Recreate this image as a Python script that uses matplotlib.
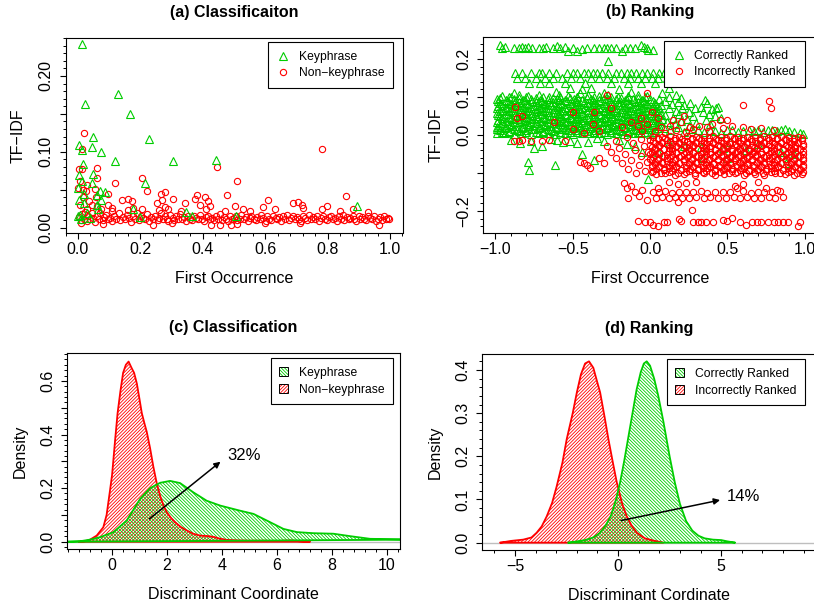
import matplotlib
matplotlib.use("Agg")
import matplotlib.pyplot as plt
from matplotlib.patches import Patch
from matplotlib.lines import Line2D
from matplotlib.ticker import MultipleLocator

plt.rcParams['font.family'] = ['Liberation Sans', 'DejaVu Sans']
plt.rcParams['hatch.linewidth'] = 0.6

GREEN = '#00CD00'
RED = '#FF0000'
HATCH_G = '\\' * 10
HATCH_R = '/' * 10

# ---- (a) Classification: first occurrence vs TF-IDF ----
keyphrase_pts = [
    (0.012, 0.242), (0.127, 0.176), (0.022, 0.163), (0.167, 0.150), (0.229, 0.117),
    (0.047, 0.119), (0.003, 0.109), (0.046, 0.106), (0.014, 0.103), (0.075, 0.100),
    (0.119, 0.088), (0.305, 0.088), (0.442, 0.089), (0.017, 0.084), (0.003, 0.070),
    (0.049, 0.071), (0.044, 0.059), (0.215, 0.059), (0.001, 0.052), (0.070, 0.049),
    (0.060, 0.043), (0.020, 0.044), (0.003, 0.037), (0.074, 0.036), (0.019, 0.033),
    (0.060, 0.030), (0.177, 0.024), (0.345, 0.021), (0.000, 0.015), (0.200, 0.014),
    (0.364, 0.016), (0.010, 0.012), (0.506, 0.016), (0.893, 0.029), (0.030, 0.020),
    (0.065, 0.025), (0.008, 0.017), (0.040, 0.013), (0.085, 0.047), (0.012, 0.062),
]

nonkey_outliers = [
    (0.019, 0.125), (0.012, 0.104), (0.781, 0.104), (0.444, 0.080), (0.060, 0.079),
    (0.012, 0.077), (0.003, 0.077), (0.060, 0.066), (0.204, 0.065), (0.509, 0.062),
    (0.119, 0.059), (0.000, 0.052), (0.017, 0.050), (0.054, 0.051), (0.025, 0.048),
    (0.220, 0.049), (0.097, 0.044), (0.279, 0.047), (0.858, 0.042), (0.266, 0.044),
    (0.380, 0.043), (0.407, 0.041), (0.476, 0.043), (0.374, 0.038), (0.418, 0.035),
    (0.306, 0.038), (0.161, 0.038), (0.140, 0.037), (0.172, 0.035), (0.252, 0.033),
    (0.268, 0.037), (0.343, 0.032), (0.610, 0.036), (0.690, 0.032), (0.706, 0.034),
    (0.717, 0.030), (0.797, 0.028), (0.781, 0.025), (0.530, 0.025), (0.594, 0.027),
    (0.097, 0.030), (0.060, 0.028), (0.503, 0.029), (0.423, 0.028), (0.390, 0.030),
    (0.177, 0.026), (0.204, 0.024), (0.005, 0.062), (0.015, 0.040), (0.035, 0.035),
    (0.045, 0.030), (0.008, 0.030), (0.075, 0.024), (0.057, 0.040), (0.030, 0.056),
    (0.110, 0.022), (0.260, 0.023), (0.290, 0.025), (0.470, 0.022),
    (0.03, 0.024), (0.11, 0.026), (0.16, 0.023), (0.28, 0.027), (0.33, 0.022),
    (0.41, 0.025), (0.55, 0.022), (0.63, 0.024), (0.72, 0.026), (0.84, 0.022),
    (0.88, 0.024), (0.93, 0.021), (0.24, 0.003), (0.425, 0.004), (0.49, 0.003),
    (0.51, 0.005), (0.60, 0.006), (0.71, 0.006), (0.965, 0.004), (0.01, 0.006),
    (0.08, 0.005), (0.30, 0.006), (0.455, 0.004),
]

nonkey_band = [
    (0.003, 0.014), (0.009, 0.010), (0.012, 0.018), (0.019, 0.012), (0.022, 0.021),
    (0.028, 0.009), (0.033, 0.015), (0.038, 0.011), (0.045, 0.019), (0.049, 0.013),
    (0.055, 0.008), (0.061, 0.016), (0.066, 0.012), (0.071, 0.020), (0.079, 0.010),
    (0.084, 0.014), (0.091, 0.017), (0.097, 0.011), (0.104, 0.013), (0.108, 0.009),
    (0.117, 0.016), (0.122, 0.012), (0.131, 0.019), (0.135, 0.010), (0.144, 0.014),
    (0.151, 0.011), (0.157, 0.017), (0.163, 0.013), (0.170, 0.008), (0.176, 0.015),
    (0.183, 0.012), (0.188, 0.020), (0.195, 0.010), (0.203, 0.016), (0.209, 0.013),
    (0.216, 0.011), (0.221, 0.018), (0.228, 0.009), (0.234, 0.014), (0.241, 0.012),
    (0.247, 0.016), (0.256, 0.010), (0.261, 0.013), (0.266, 0.019), (0.273, 0.011),
    (0.279, 0.015), (0.284, 0.012), (0.290, 0.009), (0.296, 0.017), (0.303, 0.013),
    (0.309, 0.010), (0.314, 0.015), (0.322, 0.012), (0.328, 0.018), (0.333, 0.011),
    (0.341, 0.014), (0.347, 0.009), (0.352, 0.016), (0.359, 0.012), (0.366, 0.010),
    (0.371, 0.015), (0.378, 0.013), (0.385, 0.011), (0.391, 0.017), (0.397, 0.012),
    (0.404, 0.009), (0.410, 0.014), (0.416, 0.016), (0.423, 0.011), (0.429, 0.013),
    (0.436, 0.010), (0.441, 0.015), (0.448, 0.012), (0.455, 0.018), (0.461, 0.010),
    (0.467, 0.014), (0.473, 0.012), (0.480, 0.009), (0.486, 0.016), (0.492, 0.011),
    (0.499, 0.013), (0.505, 0.015), (0.511, 0.010), (0.518, 0.012), (0.524, 0.017),
    (0.531, 0.011), (0.537, 0.014), (0.544, 0.009), (0.550, 0.013), (0.556, 0.016),
    (0.563, 0.012), (0.569, 0.010), (0.575, 0.014), (0.582, 0.011), (0.588, 0.017),
    (0.594, 0.013), (0.601, 0.009), (0.607, 0.015), (0.613, 0.012), (0.620, 0.010),
    (0.626, 0.016), (0.633, 0.013), (0.639, 0.011), (0.645, 0.014), (0.652, 0.009),
    (0.658, 0.015), (0.664, 0.012), (0.671, 0.017), (0.677, 0.010), (0.683, 0.013),
    (0.690, 0.016), (0.696, 0.011), (0.702, 0.014), (0.709, 0.012), (0.715, 0.009),
    (0.721, 0.015), (0.728, 0.013), (0.734, 0.010), (0.740, 0.017), (0.747, 0.012),
    (0.753, 0.014), (0.759, 0.011), (0.766, 0.016), (0.772, 0.009), (0.778, 0.013),
    (0.785, 0.015), (0.791, 0.012), (0.797, 0.010), (0.804, 0.014), (0.810, 0.016),
    (0.816, 0.011), (0.823, 0.013), (0.829, 0.009), (0.835, 0.015), (0.842, 0.012),
    (0.848, 0.017), (0.854, 0.010), (0.861, 0.014), (0.867, 0.011), (0.873, 0.013),
    (0.880, 0.016), (0.886, 0.012), (0.892, 0.009), (0.899, 0.015), (0.905, 0.011),
    (0.911, 0.014), (0.918, 0.012), (0.924, 0.010), (0.930, 0.016), (0.937, 0.013),
    (0.943, 0.011), (0.949, 0.015), (0.956, 0.009), (0.962, 0.012), (0.968, 0.014),
    (0.975, 0.010), (0.981, 0.016), (0.987, 0.011), (0.994, 0.013), (0.998, 0.012),
]

# ---- (b) Ranking: first occurrence difference vs TF-IDF difference ----
correct_pts = [
    # top rows
    (-0.97, 0.236), (-0.96, 0.228), (-0.94, 0.232), (-0.88, 0.229), (-0.85, 0.229),
    (-0.83, 0.232), (-0.81, 0.229), (-0.79, 0.231), (-0.76, 0.229), (-0.72, 0.229),
    (-0.69, 0.229), (-0.67, 0.231), (-0.63, 0.229), (-0.60, 0.233), (-0.58, 0.229),
    (-0.55, 0.232), (-0.53, 0.222), (-0.50, 0.229), (-0.47, 0.221), (-0.44, 0.226),
    (-0.41, 0.229), (-0.36, 0.229), (-0.33, 0.229), (-0.30, 0.229), (-0.28, 0.229),
    (-0.25, 0.229), (-0.22, 0.229), (-0.18, 0.221), (-0.16, 0.229), (-0.13, 0.229),
    (-0.10, 0.229), (-0.06, 0.236), (-0.04, 0.232), (-0.02, 0.228), (-0.01, 0.225),
    (0.02, 0.224), (-0.27, 0.195),
    (-0.87, 0.164), (-0.83, 0.164), (-0.77, 0.164), (-0.72, 0.164), (-0.70, 0.164),
    (-0.65, 0.164), (-0.61, 0.164), (-0.54, 0.164), (-0.50, 0.164), (-0.47, 0.164),
    (-0.43, 0.164), (-0.40, 0.164), (-0.37, 0.164), (-0.34, 0.164), (-0.31, 0.164),
    (-0.27, 0.164), (-0.22, 0.164), (-0.19, 0.164), (-0.15, 0.164), (-0.12, 0.164),
    (-0.09, 0.164), (-0.05, 0.164), (-0.02, 0.164), (0.02, 0.164), (0.06, 0.164),
    (0.09, 0.164),
    (-0.86, 0.150), (-0.81, 0.150), (-0.74, 0.150), (-0.68, 0.150), (-0.63, 0.150),
    (-0.57, 0.150), (-0.51, 0.150), (-0.45, 0.150), (-0.38, 0.150), (-0.33, 0.150),
    (-0.28, 0.150), (-0.23, 0.150), (-0.17, 0.150), (-0.13, 0.150), (-0.08, 0.150),
    (-0.03, 0.150), (0.01, 0.150), (0.05, 0.150), (0.11, 0.150),
    (-0.78, 0.138), (-0.71, 0.138), (-0.65, 0.138), (-0.55, 0.138), (-0.42, 0.138),
    (-0.25, 0.138), (-0.14, 0.138), (-0.06, 0.138), (0.03, 0.138), (0.14, 0.138),
    (-0.52, 0.124), (-0.44, 0.120), (-0.38, 0.124), (-0.20, 0.120), (0.12, 0.125),
    # dense core
    (-0.99, 0.004), (-0.94, 0.006), (-0.88, 0.003), (-0.83, 0.005), (-0.77, 0.002),
    (-0.72, 0.006), (-0.66, 0.004), (-0.61, 0.003), (-0.55, 0.006), (-0.50, 0.002),
    (-0.44, 0.005), (-0.39, 0.004), (-0.33, 0.006), (-0.28, 0.003), (-0.22, 0.005),
    (-0.17, 0.002), (-0.11, 0.006), (-0.06, 0.004), (0.00, 0.003),
    (-0.96, 0.009), (-0.91, 0.007), (-0.85, 0.010), (-0.80, 0.008), (-0.74, 0.009),
    (-0.69, 0.007), (-0.63, 0.010), (-0.58, 0.008), (-0.52, 0.009), (-0.47, 0.007),
    (-0.41, 0.010), (-0.36, 0.008), (-0.30, 0.009), (-0.25, 0.007), (-0.19, 0.010),
    (-0.14, 0.008), (-0.08, 0.009), (-0.03, 0.007), (0.02, 0.008),
    (-0.97, 0.013), (-0.91, 0.011), (-0.86, 0.014), (-0.80, 0.012), (-0.75, 0.015),
    (-0.69, 0.011), (-0.64, 0.013), (-0.58, 0.015), (-0.53, 0.012), (-0.47, 0.014),
    (-0.42, 0.011), (-0.36, 0.013), (-0.31, 0.015), (-0.25, 0.012), (-0.20, 0.014),
    (-0.14, 0.011), (-0.09, 0.013), (-0.03, 0.015), (0.03, 0.012),
    (-0.99, 0.017), (-0.94, 0.018), (-0.88, 0.016), (-0.83, 0.019), (-0.77, 0.017),
    (-0.72, 0.018), (-0.66, 0.016), (-0.61, 0.019), (-0.55, 0.017), (-0.50, 0.018),
    (-0.44, 0.016), (-0.39, 0.019), (-0.33, 0.017), (-0.28, 0.018), (-0.22, 0.016),
    (-0.17, 0.019), (-0.11, 0.017), (-0.06, 0.018), (0.00, 0.016), (0.05, 0.018),
    (-0.99, 0.022), (-0.93, 0.020), (-0.89, 0.024), (-0.82, 0.021), (-0.78, 0.023),
    (-0.71, 0.020), (-0.67, 0.024), (-0.60, 0.022), (-0.56, 0.020), (-0.49, 0.023),
    (-0.45, 0.021), (-0.38, 0.024), (-0.34, 0.020), (-0.27, 0.022), (-0.23, 0.024),
    (-0.16, 0.021), (-0.12, 0.023), (-0.05, 0.020), (-0.01, 0.022), (0.06, 0.024),
    (-0.97, 0.026), (-0.91, 0.027), (-0.86, 0.025), (-0.80, 0.028), (-0.75, 0.026),
    (-0.69, 0.027), (-0.64, 0.025), (-0.58, 0.028), (-0.53, 0.026), (-0.47, 0.027),
    (-0.42, 0.025), (-0.36, 0.028), (-0.31, 0.026), (-0.25, 0.027), (-0.20, 0.025),
    (-0.14, 0.028), (-0.09, 0.026), (-0.03, 0.027), (0.02, 0.026),
    (-0.96, 0.031), (-0.90, 0.029), (-0.85, 0.033), (-0.79, 0.030), (-0.74, 0.032),
    (-0.68, 0.029), (-0.63, 0.031), (-0.57, 0.033), (-0.52, 0.030), (-0.46, 0.032),
    (-0.41, 0.029), (-0.35, 0.031), (-0.30, 0.033), (-0.24, 0.030), (-0.19, 0.032),
    (-0.13, 0.029), (-0.08, 0.031), (-0.02, 0.033), (0.04, 0.030),
    (-0.99, 0.035), (-0.93, 0.036), (-0.88, 0.034), (-0.82, 0.037), (-0.77, 0.035),
    (-0.71, 0.036), (-0.66, 0.034), (-0.60, 0.037), (-0.55, 0.035), (-0.49, 0.036),
    (-0.44, 0.034), (-0.38, 0.037), (-0.33, 0.035), (-0.27, 0.036), (-0.22, 0.034),
    (-0.16, 0.037), (-0.11, 0.035), (-0.05, 0.036), (0.01, 0.034), (0.06, 0.036),
    (-0.98, 0.040), (-0.92, 0.038), (-0.87, 0.042), (-0.81, 0.039), (-0.76, 0.041),
    (-0.70, 0.038), (-0.65, 0.042), (-0.59, 0.040), (-0.54, 0.038), (-0.48, 0.041),
    (-0.43, 0.039), (-0.37, 0.042), (-0.32, 0.038), (-0.26, 0.040), (-0.21, 0.042),
    (-0.15, 0.039), (-0.10, 0.041), (-0.04, 0.038), (0.02, 0.040), (0.08, 0.042),
    (-0.96, 0.044), (-0.90, 0.045), (-0.84, 0.043), (-0.79, 0.046), (-0.73, 0.044),
    (-0.68, 0.045), (-0.62, 0.043), (-0.57, 0.046), (-0.51, 0.044), (-0.46, 0.045),
    (-0.40, 0.043), (-0.35, 0.046), (-0.29, 0.044), (-0.24, 0.045), (-0.18, 0.043),
    (-0.13, 0.046), (-0.07, 0.044), (-0.02, 0.045), (0.04, 0.044),
    (-0.97, 0.049), (-0.91, 0.047), (-0.85, 0.051), (-0.80, 0.048), (-0.74, 0.050),
    (-0.69, 0.047), (-0.63, 0.051), (-0.58, 0.049), (-0.52, 0.047), (-0.47, 0.050),
    (-0.41, 0.048), (-0.36, 0.051), (-0.30, 0.047), (-0.25, 0.049), (-0.19, 0.051),
    (-0.14, 0.048), (-0.08, 0.050), (-0.03, 0.047), (0.03, 0.049),
    (-0.98, 0.053), (-0.92, 0.054), (-0.87, 0.052), (-0.81, 0.055), (-0.76, 0.053),
    (-0.70, 0.054), (-0.65, 0.052), (-0.59, 0.055), (-0.54, 0.053), (-0.48, 0.054),
    (-0.43, 0.052), (-0.37, 0.055), (-0.32, 0.053), (-0.26, 0.054), (-0.21, 0.052),
    (-0.15, 0.055), (-0.10, 0.053), (-0.04, 0.054), (0.02, 0.053), (0.07, 0.055),
    (-0.99, 0.058), (-0.93, 0.056), (-0.88, 0.060), (-0.82, 0.057), (-0.77, 0.059),
    (-0.71, 0.056), (-0.66, 0.060), (-0.60, 0.058), (-0.55, 0.056), (-0.49, 0.059),
    (-0.44, 0.057), (-0.38, 0.060), (-0.33, 0.056), (-0.27, 0.058), (-0.22, 0.060),
    (-0.16, 0.057), (-0.11, 0.059), (-0.05, 0.056), (0.00, 0.058), (0.05, 0.060),
    (-0.97, 0.062), (-0.91, 0.063), (-0.85, 0.061), (-0.80, 0.064), (-0.74, 0.062),
    (-0.69, 0.063), (-0.63, 0.061), (-0.58, 0.064), (-0.52, 0.062), (-0.47, 0.063),
    (-0.41, 0.061), (-0.36, 0.064), (-0.30, 0.062), (-0.25, 0.063), (-0.19, 0.061),
    (-0.14, 0.064), (-0.08, 0.062), (-0.03, 0.063), (0.03, 0.062),
    (-0.96, 0.067), (-0.90, 0.065), (-0.84, 0.069), (-0.79, 0.066), (-0.73, 0.068),
    (-0.68, 0.065), (-0.62, 0.069), (-0.57, 0.067), (-0.51, 0.065), (-0.46, 0.068),
    (-0.40, 0.066), (-0.35, 0.069), (-0.29, 0.065), (-0.24, 0.067), (-0.18, 0.069),
    (-0.13, 0.066), (-0.07, 0.068), (-0.02, 0.065), (0.04, 0.067),
    (-0.99, 0.071), (-0.93, 0.072), (-0.88, 0.070), (-0.82, 0.073), (-0.77, 0.071),
    (-0.71, 0.072), (-0.66, 0.070), (-0.60, 0.073), (-0.55, 0.071), (-0.49, 0.072),
    (-0.44, 0.070), (-0.38, 0.073), (-0.33, 0.071), (-0.27, 0.072), (-0.22, 0.070),
    (-0.16, 0.073), (-0.11, 0.071), (-0.05, 0.072), (0.01, 0.070), (0.06, 0.072),
    (-0.98, 0.076), (-0.92, 0.074), (-0.86, 0.078), (-0.81, 0.075), (-0.75, 0.077),
    (-0.70, 0.074), (-0.64, 0.078), (-0.59, 0.076), (-0.53, 0.074), (-0.48, 0.077),
    (-0.42, 0.075), (-0.37, 0.078), (-0.31, 0.074), (-0.26, 0.076), (-0.20, 0.078),
    (-0.15, 0.075), (-0.09, 0.077), (-0.04, 0.074), (0.02, 0.076), (0.07, 0.078),
    (-0.96, 0.080), (-0.90, 0.081), (-0.84, 0.079), (-0.79, 0.082), (-0.73, 0.080),
    (-0.68, 0.081), (-0.62, 0.079), (-0.57, 0.082), (-0.51, 0.080), (-0.46, 0.081),
    (-0.40, 0.079), (-0.35, 0.082), (-0.29, 0.080), (-0.24, 0.081), (-0.18, 0.079),
    (-0.13, 0.082), (-0.07, 0.080), (-0.02, 0.081), (0.04, 0.080),
    (-0.97, 0.085), (-0.91, 0.083), (-0.85, 0.087), (-0.80, 0.084), (-0.74, 0.086),
    (-0.69, 0.083), (-0.63, 0.087), (-0.58, 0.085), (-0.52, 0.083), (-0.47, 0.086),
    (-0.41, 0.084), (-0.36, 0.087), (-0.30, 0.083), (-0.25, 0.085), (-0.19, 0.087),
    (-0.14, 0.084), (-0.08, 0.086), (-0.03, 0.083), (0.03, 0.085),
    (-0.98, 0.089), (-0.92, 0.090), (-0.87, 0.088), (-0.81, 0.091), (-0.76, 0.089),
    (-0.70, 0.090), (-0.65, 0.088), (-0.59, 0.091), (-0.54, 0.089), (-0.48, 0.090),
    (-0.43, 0.088), (-0.37, 0.091), (-0.32, 0.089), (-0.26, 0.090), (-0.21, 0.088),
    (-0.15, 0.091), (-0.10, 0.089), (-0.04, 0.090), (0.02, 0.089),
    (-0.99, 0.094), (-0.93, 0.092), (-0.88, 0.096), (-0.82, 0.093), (-0.77, 0.095),
    (-0.71, 0.092), (-0.66, 0.096), (-0.60, 0.094), (-0.55, 0.092), (-0.49, 0.095),
    (-0.44, 0.093), (-0.38, 0.096), (-0.33, 0.092), (-0.27, 0.094), (-0.22, 0.096),
    (-0.16, 0.093), (-0.11, 0.095), (-0.05, 0.092), (0.00, 0.094), (0.06, 0.096),
    (-0.97, 0.098), (-0.91, 0.099), (-0.85, 0.097), (-0.80, 0.100), (-0.74, 0.098),
    (-0.69, 0.099), (-0.63, 0.097), (-0.58, 0.100), (-0.52, 0.098), (-0.47, 0.099),
    (-0.41, 0.097), (-0.36, 0.100), (-0.30, 0.098), (-0.25, 0.099), (-0.19, 0.097),
    (-0.14, 0.100), (-0.08, 0.098), (-0.03, 0.099),
    (-0.96, 0.103), (-0.90, 0.101), (-0.85, 0.105), (-0.79, 0.102), (-0.72, 0.104),
    (-0.65, 0.101), (-0.59, 0.105), (-0.53, 0.103), (-0.47, 0.101), (-0.40, 0.104),
    (-0.33, 0.102), (-0.27, 0.105), (-0.21, 0.101), (-0.14, 0.103), (-0.08, 0.105),
    (-0.02, 0.102), (-0.88, 0.111), (-0.61, 0.112), (-0.45, 0.110), (-0.30, 0.111),
    (-0.12, 0.112),
    # right of zero
    (0.10, 0.090), (0.14, 0.082), (0.18, 0.088), (0.22, 0.079), (0.26, 0.084),
    (0.12, 0.070), (0.17, 0.064), (0.21, 0.070), (0.25, 0.061), (0.29, 0.072),
    (0.10, 0.052), (0.15, 0.046), (0.19, 0.055), (0.24, 0.043), (0.28, 0.050),
    (0.11, 0.034), (0.16, 0.028), (0.20, 0.036), (0.25, 0.025), (0.30, 0.032),
    (0.09, 0.018), (0.13, 0.012), (0.18, 0.020), (0.22, 0.008), (0.27, 0.015),
    (0.12, 0.100), (0.17, 0.104), (0.08, 0.110), (0.20, 0.097),
    (0.33, 0.075), (0.355, 0.092), (0.37, 0.083), (0.40, 0.068), (0.43, 0.070),
    (0.44, 0.075), (0.34, 0.060), (0.38, 0.055), (0.42, 0.050), (0.36, 0.040),
    (0.46, 0.045), (0.39, 0.030),
    (0.31, 0.012), (0.35, 0.008), (0.39, 0.014), (0.42, 0.010), (0.46, 0.006),
    (0.50, 0.012), (0.53, 0.014), (0.57, 0.009), (0.60, 0.011), (0.64, 0.014),
    (0.67, 0.010), (0.70, 0.013), (0.73, 0.008), (0.76, 0.012), (0.79, 0.014),
    (0.82, 0.010), (0.85, 0.013), (0.87, 0.015), (0.90, 0.011), (0.93, 0.008),
    (0.97, 0.006), (0.99, 0.002),
    # below zero
    (-0.90, -0.012), (-0.84, -0.020), (-0.77, -0.015), (-0.70, -0.028), (-0.64, -0.010),
    (-0.60, -0.012), (-0.52, -0.015), (-0.47, -0.020), (-0.40, -0.018), (-0.34, -0.008),
    (-0.30, -0.015), (-0.20, -0.012), (-0.15, -0.025), (-0.75, -0.035), (-0.56, -0.018),
    (-0.79, -0.070), (-0.785, -0.092), (-0.617, -0.079), (-0.44, -0.050), (-0.36, -0.065),
    (-0.10, -0.030), (-0.05, -0.045),
    (0.054, -0.044), (0.344, -0.061), (0.495, -0.061), (0.88, -0.073), (-0.01, -0.117),
    (0.333, -0.031), (0.473, -0.035), (0.516, -0.018), (0.85, -0.044), (0.12, -0.02),
    (0.22, -0.03), (0.70, -0.025), (0.93, -0.05), (0.62, -0.04),
]

incorrect_pts = [
    # dense block
    (0.02, -0.004), (0.08, -0.006), (0.13, -0.003), (0.19, -0.005), (0.24, -0.002),
    (0.30, -0.006), (0.35, -0.004), (0.41, -0.003), (0.46, -0.006), (0.52, -0.002),
    (0.57, -0.005), (0.63, -0.004), (0.68, -0.006), (0.74, -0.003), (0.79, -0.005),
    (0.85, -0.002), (0.90, -0.006), (0.96, -0.004),
    (0.05, -0.008), (0.10, -0.009), (0.16, -0.007), (0.21, -0.010), (0.27, -0.008),
    (0.32, -0.009), (0.38, -0.007), (0.43, -0.010), (0.49, -0.008), (0.54, -0.009),
    (0.60, -0.007), (0.65, -0.010), (0.71, -0.008), (0.76, -0.009), (0.82, -0.007),
    (0.87, -0.010), (0.93, -0.008), (0.98, -0.009),
    (0.00, -0.013), (0.05, -0.011), (0.11, -0.014), (0.16, -0.012), (0.22, -0.015),
    (0.27, -0.011), (0.33, -0.013), (0.38, -0.015), (0.44, -0.012), (0.49, -0.014),
    (0.55, -0.011), (0.60, -0.013), (0.66, -0.015), (0.71, -0.012), (0.77, -0.014),
    (0.82, -0.011), (0.88, -0.013), (0.93, -0.015), (0.98, -0.012),
    (0.02, -0.017), (0.08, -0.018), (0.13, -0.016), (0.19, -0.019), (0.24, -0.017),
    (0.30, -0.018), (0.35, -0.016), (0.41, -0.019), (0.46, -0.017), (0.52, -0.018),
    (0.57, -0.016), (0.63, -0.019), (0.68, -0.017), (0.74, -0.018), (0.79, -0.016),
    (0.85, -0.019), (0.90, -0.017), (0.96, -0.018),
    (0.03, -0.022), (0.08, -0.020), (0.14, -0.024), (0.19, -0.021), (0.25, -0.023),
    (0.30, -0.020), (0.36, -0.024), (0.41, -0.022), (0.47, -0.020), (0.52, -0.023),
    (0.58, -0.021), (0.63, -0.024), (0.69, -0.020), (0.74, -0.022), (0.80, -0.024),
    (0.85, -0.021), (0.91, -0.023), (0.96, -0.020),
    (0.00, -0.026), (0.06, -0.027), (0.11, -0.025), (0.17, -0.028), (0.22, -0.026),
    (0.28, -0.027), (0.33, -0.025), (0.39, -0.028), (0.44, -0.026), (0.50, -0.027),
    (0.55, -0.025), (0.61, -0.028), (0.66, -0.026), (0.72, -0.027), (0.77, -0.025),
    (0.83, -0.028), (0.88, -0.026), (0.94, -0.027), (0.99, -0.025),
    (0.01, -0.031), (0.06, -0.029), (0.12, -0.033), (0.17, -0.030), (0.23, -0.032),
    (0.28, -0.029), (0.34, -0.031), (0.39, -0.033), (0.45, -0.030), (0.50, -0.032),
    (0.56, -0.029), (0.61, -0.031), (0.67, -0.033), (0.72, -0.030), (0.78, -0.032),
    (0.83, -0.029), (0.89, -0.031), (0.94, -0.033), (0.99, -0.030),
    (0.03, -0.035), (0.09, -0.036), (0.14, -0.034), (0.20, -0.037), (0.25, -0.035),
    (0.31, -0.036), (0.36, -0.034), (0.42, -0.037), (0.47, -0.035), (0.53, -0.036),
    (0.58, -0.034), (0.64, -0.037), (0.69, -0.035), (0.75, -0.036), (0.80, -0.034),
    (0.86, -0.037), (0.91, -0.035), (0.97, -0.036),
    (0.03, -0.040), (0.09, -0.038), (0.14, -0.042), (0.20, -0.039), (0.25, -0.041),
    (0.31, -0.038), (0.36, -0.042), (0.42, -0.040), (0.47, -0.038), (0.53, -0.041),
    (0.58, -0.039), (0.64, -0.042), (0.69, -0.038), (0.75, -0.040), (0.80, -0.042),
    (0.86, -0.039), (0.91, -0.041), (0.97, -0.038),
    (0.01, -0.044), (0.06, -0.045), (0.12, -0.043), (0.17, -0.046), (0.23, -0.044),
    (0.28, -0.045), (0.34, -0.043), (0.39, -0.046), (0.45, -0.044), (0.50, -0.045),
    (0.56, -0.043), (0.61, -0.046), (0.67, -0.044), (0.72, -0.045), (0.78, -0.043),
    (0.83, -0.046), (0.89, -0.044), (0.94, -0.045), (0.99, -0.043),
    (0.00, -0.049), (0.06, -0.047), (0.11, -0.051), (0.17, -0.048), (0.22, -0.050),
    (0.28, -0.047), (0.33, -0.051), (0.39, -0.049), (0.44, -0.047), (0.50, -0.050),
    (0.55, -0.048), (0.61, -0.051), (0.66, -0.047), (0.72, -0.049), (0.77, -0.051),
    (0.83, -0.048), (0.88, -0.050), (0.94, -0.047), (0.99, -0.049),
    (0.03, -0.053), (0.09, -0.054), (0.14, -0.052), (0.20, -0.055), (0.25, -0.053),
    (0.31, -0.054), (0.36, -0.052), (0.42, -0.055), (0.47, -0.053), (0.53, -0.054),
    (0.58, -0.052), (0.64, -0.055), (0.69, -0.053), (0.75, -0.054), (0.80, -0.052),
    (0.86, -0.055), (0.91, -0.053), (0.97, -0.054),
    (0.02, -0.058), (0.08, -0.056), (0.13, -0.060), (0.19, -0.057), (0.24, -0.059),
    (0.30, -0.056), (0.35, -0.060), (0.41, -0.058), (0.46, -0.056), (0.52, -0.059),
    (0.57, -0.057), (0.63, -0.060), (0.68, -0.056), (0.74, -0.058), (0.79, -0.060),
    (0.85, -0.057), (0.90, -0.059), (0.96, -0.056),
    (0.00, -0.062), (0.05, -0.063), (0.11, -0.061), (0.16, -0.064), (0.22, -0.062),
    (0.27, -0.063), (0.33, -0.061), (0.38, -0.064), (0.44, -0.062), (0.49, -0.063),
    (0.55, -0.061), (0.60, -0.064), (0.66, -0.062), (0.71, -0.063), (0.77, -0.061),
    (0.82, -0.064), (0.88, -0.062), (0.93, -0.063), (0.99, -0.061),
    (0.01, -0.067), (0.05, -0.065), (0.11, -0.069), (0.16, -0.066), (0.22, -0.068),
    (0.27, -0.065), (0.33, -0.069), (0.38, -0.067), (0.44, -0.065), (0.49, -0.068),
    (0.55, -0.066), (0.60, -0.069), (0.66, -0.065), (0.71, -0.067), (0.77, -0.069),
    (0.82, -0.066), (0.88, -0.068), (0.93, -0.065), (0.99, -0.067),
    (0.03, -0.071), (0.08, -0.072), (0.14, -0.070), (0.19, -0.073), (0.25, -0.071),
    (0.30, -0.072), (0.36, -0.070), (0.41, -0.073), (0.47, -0.071), (0.52, -0.072),
    (0.58, -0.070), (0.63, -0.073), (0.69, -0.071), (0.74, -0.072), (0.80, -0.070),
    (0.85, -0.073), (0.91, -0.071), (0.96, -0.072),
    (0.03, -0.076), (0.08, -0.074), (0.14, -0.078), (0.19, -0.075), (0.25, -0.077),
    (0.30, -0.074), (0.36, -0.078), (0.41, -0.076), (0.47, -0.074), (0.52, -0.077),
    (0.58, -0.075), (0.63, -0.078), (0.69, -0.074), (0.74, -0.076), (0.80, -0.078),
    (0.85, -0.075), (0.91, -0.077), (0.96, -0.074),
    (0.01, -0.080), (0.06, -0.081), (0.12, -0.079), (0.17, -0.082), (0.23, -0.080),
    (0.28, -0.081), (0.34, -0.079), (0.39, -0.082), (0.45, -0.080), (0.50, -0.081),
    (0.56, -0.079), (0.61, -0.082), (0.67, -0.080), (0.72, -0.081), (0.78, -0.079),
    (0.83, -0.082), (0.89, -0.080), (0.94, -0.081), (0.99, -0.079),
    (0.01, -0.085), (0.06, -0.083), (0.12, -0.087), (0.17, -0.084), (0.23, -0.086),
    (0.28, -0.083), (0.34, -0.087), (0.39, -0.085), (0.45, -0.083), (0.50, -0.086),
    (0.56, -0.084), (0.61, -0.087), (0.67, -0.083), (0.72, -0.085), (0.78, -0.087),
    (0.83, -0.084), (0.89, -0.086), (0.94, -0.083), (0.99, -0.085),
    (0.04, -0.089), (0.09, -0.090), (0.15, -0.088), (0.20, -0.091), (0.26, -0.089),
    (0.31, -0.090), (0.37, -0.088), (0.42, -0.091), (0.48, -0.089), (0.53, -0.090),
    (0.59, -0.088), (0.64, -0.091), (0.70, -0.089), (0.75, -0.090), (0.81, -0.088),
    (0.86, -0.091), (0.92, -0.089), (0.97, -0.090),
    (0.02, -0.094), (0.09, -0.092), (0.14, -0.096), (0.20, -0.093), (0.25, -0.095),
    (0.31, -0.092), (0.36, -0.096), (0.42, -0.094), (0.47, -0.092), (0.53, -0.095),
    (0.58, -0.093), (0.64, -0.096), (0.69, -0.092), (0.75, -0.094), (0.80, -0.096),
    (0.86, -0.093), (0.91, -0.095), (0.97, -0.092),
    (0.01, -0.098), (0.07, -0.099), (0.12, -0.097), (0.18, -0.100), (0.23, -0.098),
    (0.29, -0.099), (0.34, -0.097), (0.40, -0.100), (0.45, -0.098), (0.51, -0.099),
    (0.56, -0.097), (0.62, -0.100), (0.67, -0.098), (0.73, -0.099), (0.78, -0.097),
    (0.84, -0.100), (0.89, -0.098), (0.95, -0.099), (0.99, -0.097),
    (0.04, -0.103), (0.10, -0.101), (0.16, -0.105), (0.22, -0.102), (0.29, -0.104),
    (0.35, -0.101), (0.42, -0.105), (0.48, -0.103), (0.55, -0.101), (0.61, -0.104),
    (0.68, -0.102), (0.74, -0.105), (0.81, -0.101), (0.87, -0.103), (0.93, -0.105),
    (0.98, -0.102),
    # transition zone
    (-0.28, -0.030), (-0.25, -0.045), (-0.22, -0.060), (-0.20, -0.035), (-0.18, -0.075),
    (-0.16, -0.050), (-0.14, -0.090), (-0.12, -0.065), (-0.10, -0.040), (-0.09, -0.100),
    (-0.07, -0.080), (-0.06, -0.055), (-0.04, -0.030), (-0.03, -0.095), (-0.02, -0.070),
    (-0.01, -0.045), (-0.11, -0.020), (-0.06, -0.010), (-0.22, -0.015), (-0.15, -0.005),
    (-0.33, -0.060), (-0.30, -0.075), (-0.45, -0.070), (-0.43, -0.075), (-0.41, -0.080),
    (-0.39, -0.086), (-0.05, 0.010), (-0.08, 0.025), (-0.02, 0.030),
    # above zero
    (0.03, 0.010), (0.07, 0.020), (0.10, 0.005), (0.13, 0.025), (0.17, 0.012),
    (0.20, 0.035), (0.23, 0.008), (0.26, 0.022), (0.05, 0.045), (0.15, 0.040),
    (0.22, 0.050), (0.28, 0.015), (0.32, 0.025), (0.37, 0.020), (0.40, 0.030),
    (0.45, 0.040), (0.50, 0.040), (0.53, 0.025), (0.47, 0.018), (0.60, 0.020),
    (0.65, 0.015), (0.72, 0.018), (0.80, 0.012), (0.60, 0.080), (0.77, 0.090),
    (0.78, 0.070), (0.01, 0.060), (-0.02, 0.110), (0.38, 0.010),
    (-0.87, 0.075), (-0.86, 0.045), (-0.50, 0.060), (-0.36, 0.060), (-0.33, 0.010),
    (-0.37, 0.030), (-0.28, 0.105), (-0.43, 0.005), (-0.50, 0.015), (-0.06, 0.045),
    (-0.62, 0.035), (-0.18, 0.020), (-0.88, -0.015), (-0.85, -0.015), (-0.83, -0.012),
    (-0.77, -0.015), (-0.70, -0.015), (-0.65, -0.012), (-0.55, -0.015), (-0.83, 0.050),
    (-0.25, 0.070), (-0.12, 0.035),
    # lower bands
    (-0.17, -0.127), (-0.15, -0.140), (-0.12, -0.135), (-0.10, -0.150), (-0.07, -0.160),
    (-0.05, -0.145), (-0.14, -0.165), (-0.02, -0.170), (0.02, -0.150), (0.05, -0.140),
    (0.12, -0.125), (0.18, -0.130), (0.23, -0.127), (0.30, -0.125),
    (0.06, -0.150), (0.10, -0.148), (0.14, -0.152), (0.19, -0.149), (0.23, -0.151),
    (0.28, -0.150), (0.33, -0.148), (0.37, -0.152), (0.42, -0.149), (0.47, -0.151),
    (0.52, -0.150), (0.56, -0.140), (0.60, -0.148), (0.65, -0.152), (0.70, -0.149),
    (0.74, -0.151), (0.79, -0.150), (0.84, -0.148),
    (0.04, -0.165), (0.08, -0.163), (0.12, -0.167), (0.16, -0.164), (0.21, -0.166),
    (0.25, -0.165), (0.30, -0.163), (0.35, -0.167), (0.39, -0.164), (0.44, -0.166),
    (0.49, -0.165), (0.54, -0.163), (0.58, -0.167), (0.63, -0.164), (0.67, -0.166),
    (0.72, -0.165), (0.77, -0.163), (0.81, -0.167), (0.86, -0.164),
    (0.27, -0.197), (0.18, -0.177), (0.55, -0.135), (0.60, -0.130), (0.70, -0.125),
    (0.75, -0.140), (0.82, -0.145),
    (-0.075, -0.226), (-0.03, -0.229), (0.00, -0.230), (0.02, -0.236), (0.054, -0.240),
    (0.09, -0.230), (0.11, -0.229), (0.19, -0.220), (0.20, -0.226), (0.28, -0.230),
    (0.31, -0.230), (0.33, -0.230), (0.36, -0.230), (0.41, -0.230), (0.47, -0.225),
    (0.50, -0.226), (0.53, -0.218), (0.58, -0.230), (0.62, -0.236), (0.66, -0.230),
    (0.69, -0.230), (0.72, -0.230), (0.76, -0.230), (0.80, -0.230), (0.83, -0.230),
    (0.86, -0.230), (0.89, -0.230), (0.96, -0.240), (0.97, -0.228),
]

# ---- (c) density of discriminant coordinate, classification ----
key_dens_x = [-1.7, -1.16, -0.8, -0.44, 0.05, 0.53, 1.02, 1.38, 1.75, 2.11, 2.47, 2.96,
              3.44, 3.93, 4.65, 5.14, 5.63, 6.23, 6.72, 7.32, 8.05, 8.65, 9.38, 10.47, 11.0]
key_dens_y = [0.0, 0.002, 0.008, 0.017, 0.036, 0.079, 0.16, 0.2, 0.22, 0.227, 0.219, 0.184,
              0.153, 0.135, 0.116, 0.104, 0.079, 0.048, 0.036, 0.032, 0.03, 0.021, 0.011, 0.009, 0.008]
nonkey_dens_x = [-1.2, -0.98, -0.8, -0.56, -0.32, -0.2, -0.07, 0.0, 0.11, 0.2, 0.3, 0.4, 0.5,
                 0.6, 0.7, 0.8, 0.9, 1.0, 1.08, 1.18, 1.26, 1.38, 1.5, 1.62, 1.75, 1.87, 1.99,
                 2.15, 2.29, 2.5, 2.72, 2.95, 3.2, 3.5, 3.7, 3.9, 4.17, 4.6, 5.0, 5.5, 6.0,
                 6.5, 6.8, 7.2]
nonkey_dens_y = [0.0, 0.002, 0.008, 0.023, 0.054, 0.1, 0.196, 0.25, 0.38, 0.48, 0.56, 0.63,
                 0.66, 0.672, 0.65, 0.63, 0.59, 0.53, 0.48, 0.44, 0.41, 0.35, 0.28, 0.22,
                 0.17, 0.135, 0.11, 0.088, 0.073, 0.055, 0.042, 0.03, 0.023, 0.021, 0.018,
                 0.012, 0.007, 0.005, 0.004, 0.004, 0.003, 0.005, 0.002, 0.0]

# ---- (d) density of discriminant coordinate, ranking ----
ok_dens_x = [-2.4, -2.0, -1.6, -1.2, -0.9, -0.6, -0.35, -0.1, 0.1, 0.3, 0.5, 0.7, 0.9, 1.1,
             1.25, 1.39, 1.55, 1.75, 1.95, 2.2, 2.5, 2.75, 3.0, 3.3, 3.6, 3.9, 4.2, 4.6,
             5.0, 5.3, 5.68]
ok_dens_y = [0.0, 0.003, 0.006, 0.012, 0.022, 0.04, 0.062, 0.1, 0.14, 0.19, 0.245, 0.3,
             0.355, 0.395, 0.415, 0.42, 0.41, 0.38, 0.34, 0.28, 0.2, 0.14, 0.09, 0.05,
             0.028, 0.016, 0.01, 0.007, 0.006, 0.003, 0.0]
bad_dens_x = [-5.7, -5.2, -4.6, -4.2, -3.95, -3.7, -3.46, -3.2, -2.98, -2.7, -2.49, -2.2,
              -2.0, -1.8, -1.6, -1.41, -1.2, -1.0, -0.87, -0.65, -0.47, -0.25, -0.06, 0.2,
              0.42, 0.65, 0.91, 1.3, 1.7, 2.2]
bad_dens_y = [0.0, 0.004, 0.007, 0.012, 0.023, 0.038, 0.061, 0.092, 0.13, 0.185, 0.24, 0.3,
              0.348, 0.39, 0.415, 0.42, 0.405, 0.37, 0.348, 0.29, 0.24, 0.185, 0.139, 0.09,
              0.061, 0.04, 0.023, 0.01, 0.005, 0.0]

W, H = 814, 607
FS = 11.5
fig = plt.figure(figsize=(W / 100, H / 100), dpi=100)


def box(left, top, right, bottom):
    return [left / W, 1 - bottom / H, (right - left) / W, (bottom - top) / H]


def r_axes(ax, xticks, xlabels, xminor, yticks, ylabels, yminor):
    ax.set_xticks(xticks)
    ax.set_xticklabels(xlabels)
    ax.xaxis.set_minor_locator(MultipleLocator(xminor))
    ax.set_yticks(yticks)
    ax.set_yticklabels(ylabels, rotation=90, va='center')
    ax.yaxis.set_minor_locator(MultipleLocator(yminor))
    ax.tick_params(which='major', direction='out', length=4.5, width=0.8, labelsize=FS)
    ax.tick_params(which='minor', direction='out', length=2.2, width=0.7)
    ax.tick_params(axis='x', which='major', pad=2)
    ax.tick_params(axis='y', which='major', pad=4)
    for s in ax.spines.values():
        s.set_linewidth(0.8)


def labels(ax, title, xlabel, ylabel):
    ax.text(0.5, 1.13, title, transform=ax.transAxes, ha='center', va='center',
            fontsize=FS, fontweight='bold')
    ax.set_xlabel(xlabel, fontsize=FS)
    ax.xaxis.set_label_coords(0.5, -0.195)
    ax.set_ylabel(ylabel, fontsize=FS)
    ax.yaxis.set_label_coords(-0.118, 0.5)


def scatter_legend(ax, names, anchor):
    h = [Line2D([], [], marker='^', ls='none', mfc='none', mec=GREEN, ms=5.5, mew=0.8),
         Line2D([], [], marker='o', ls='none', mfc='none', mec=RED, ms=4.5, mew=0.8)]
    leg = ax.legend(h, names, loc='upper right', bbox_to_anchor=anchor, borderaxespad=0,
                    fontsize=8.7, fancybox=False, edgecolor='black', framealpha=1,
                    handlelength=1.0, handletextpad=0.8, labelspacing=0.35, borderpad=0.75)
    leg.get_frame().set_linewidth(0.8)


def hatch_legend(ax, names, anchor):
    h = [(Patch(facecolor='none', edgecolor=GREEN, hatch=HATCH_G, lw=0),
          Patch(facecolor='none', edgecolor='black', lw=0.7)),
         (Patch(facecolor='none', edgecolor=RED, hatch=HATCH_R, lw=0),
          Patch(facecolor='none', edgecolor='black', lw=0.7))]
    leg = ax.legend(h, names, loc='upper right', bbox_to_anchor=anchor, borderaxespad=0,
                    fontsize=8.7, fancybox=False, edgecolor='black', framealpha=1,
                    handlelength=0.75, handleheight=0.75, handletextpad=0.9,
                    labelspacing=0.45, borderpad=0.7)
    leg.get_frame().set_linewidth(0.8)


def density(ax, xs, ys, color, hatch):
    px = xs + [xs[0]]
    py = ys + [ys[0]]
    ax.fill(px, py, facecolor='none', edgecolor=color, hatch=hatch, linewidth=0)
    ax.plot(px, py, color=color, lw=1.3)


# (a)
ax = fig.add_axes(box(65.5, 38, 402.5, 233))
nx = [p[0] for p in nonkey_band + nonkey_outliers]
ny = [p[1] for p in nonkey_band + nonkey_outliers]
ax.plot(nx, ny, 'o', mfc='none', mec=RED, ms=4.5, mew=0.8)
ax.plot([p[0] for p in keyphrase_pts], [p[1] for p in keyphrase_pts], '^',
        mfc='none', mec=GREEN, ms=5.5, mew=0.8)
r_axes(ax, [0, 0.2, 0.4, 0.6, 0.8, 1.0], ['0.0', '0.2', '0.4', '0.6', '0.8', '1.0'], 0.04,
       [0, 0.05, 0.1, 0.15, 0.2], ['0.00', '', '0.10', '', '0.20'], 0.01)
ax.set_xlim(-0.04, 1.04)
ax.set_ylim(-0.007, 0.25)
labels(ax, '(a) Classificaiton', 'First Occurrence', 'TF\u2212IDF')
scatter_legend(ax, ['Keyphrase', 'Non\u2212keyphrase'], (0.973, 0.979))

# (b)
ax = fig.add_axes(box(483, 37, 817, 233))
ax.plot([p[0] for p in correct_pts], [p[1] for p in correct_pts], '^',
        mfc='none', mec=GREEN, ms=5.5, mew=0.8)
ax.plot([p[0] for p in incorrect_pts], [p[1] for p in incorrect_pts], 'o',
        mfc='none', mec=RED, ms=4.5, mew=0.8)
r_axes(ax, [-1.0, -0.5, 0.0, 0.5, 1.0], ['\u22121.0', '\u22120.5', '0.0', '0.5', '1.0'], 0.1,
       [-0.2, -0.1, 0.0, 0.1, 0.2], ['\u22120.2', '', '0.0', '0.1', '0.2'], 0.02)
ax.set_xlim(-1.08, 1.08)
ax.set_ylim(-0.258, 0.258)
labels(ax, '(b) Ranking', 'First Occurrence', 'TF\u2212IDF')
scatter_legend(ax, ['Correctly Ranked', 'Incorrectly Ranked'], (0.964, 0.979))

# (c)
ax = fig.add_axes(box(67, 353, 400, 549))
ax.axhline(0, color='#BEBEBE', lw=1)
density(ax, nonkey_dens_x, nonkey_dens_y, RED, HATCH_R)
density(ax, key_dens_x, key_dens_y, GREEN, HATCH_G)
ax.annotate('', xy=(4.02, 0.305), xytext=(1.28, 0.079),
            arrowprops=dict(arrowstyle='-|>', color='black', lw=1.1, mutation_scale=9))
ax.text(4.2, 0.32, '32%', fontsize=12, ha='left', va='center')
r_axes(ax, [0, 2, 4, 6, 8, 10], ['0', '2', '4', '6', '8', '10'], 0.4,
       [0, 0.1, 0.2, 0.3, 0.4, 0.5, 0.6], ['0.0', '', '0.2', '', '0.4', '', '0.6'], 0.02)
ax.set_xlim(-1.64, 10.47)
ax.set_ylim(-0.027, 0.704)
labels(ax, '(c) Classification', 'Discriminant Coordinate', 'Density')
hatch_legend(ax, ['Keyphrase', 'Non\u2212keyphrase'], (0.979, 0.974))

# (d)
ax = fig.add_axes(box(482, 354, 816, 550))
ax.axhline(0, color='#BEBEBE', lw=1)
density(ax, bad_dens_x, bad_dens_y, RED, HATCH_R)
density(ax, ok_dens_x, ok_dens_y, GREEN, HATCH_G)
ax.annotate('', xy=(5.08, 0.1), xytext=(0.02, 0.05),
            arrowprops=dict(arrowstyle='-|>', color='black', lw=1.1, mutation_scale=9))
ax.text(5.27, 0.108, '14%', fontsize=12, ha='left', va='center')
r_axes(ax, [-5, 0, 5], ['\u22125', '0', '5'], 1,
       [0, 0.1, 0.2, 0.3, 0.4], ['0.0', '0.1', '0.2', '0.3', '0.4'], 0.02)
ax.set_xlim(-6.6, 9.6)
ax.set_ylim(-0.017, 0.437)
labels(ax, '(d) Ranking', 'Discriminant Cordinate', 'Density')
hatch_legend(ax, ['Correctly Ranked', 'Incorrectly Ranked'], (0.967, 0.974))

fig.savefig('out.png', dpi=100)
